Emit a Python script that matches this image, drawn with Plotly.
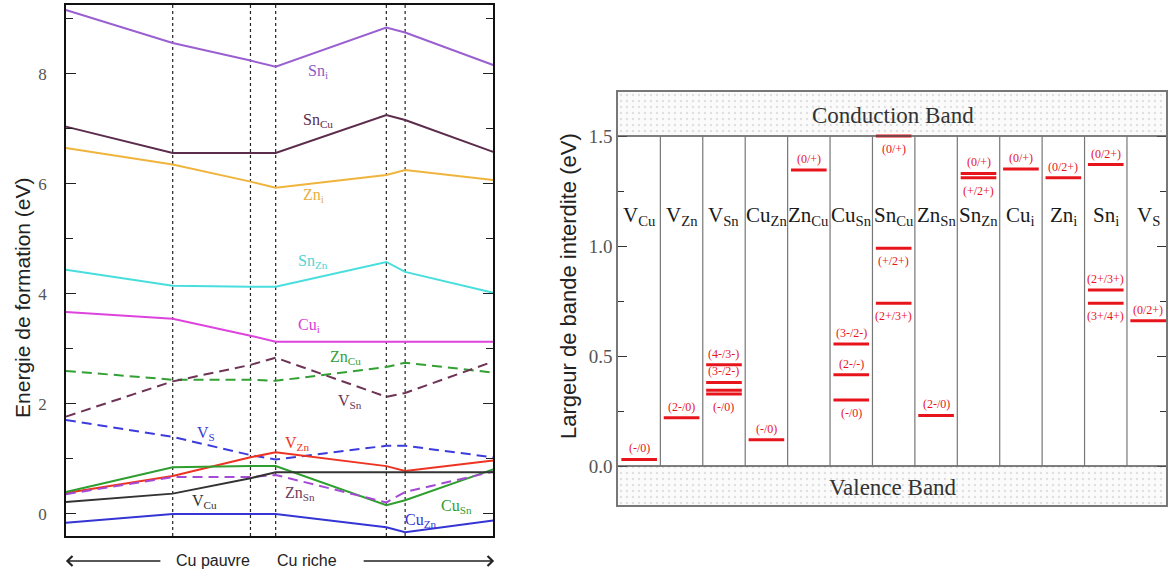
import plotly.graph_objects as go

W, H = 1168, 574

# ---------------- Left panel data ----------------
mu_points = [0, 2.5, 4.32, 4.91, 7.5, 7.94, 10]   # positions along chemical-potential path
Sn_i  = [9.16, 8.56, 8.24, 8.13, 8.84, 8.75, 8.16]
Sn_Cu = [7.04, 6.56, 6.56, 6.56, 7.25, 7.16, 6.58]
Zn_i  = [6.65, 6.35, 6.04, 5.93, 6.16, 6.25, 6.07]
Sn_Zn = [4.44, 4.15, 4.13, 4.13, 4.58, 4.40, 4.02]
Cu_i  = [3.67, 3.55, 3.24, 3.13, 3.13, 3.13, 3.13]
Zn_Cu = [2.60, 2.44, 2.44, 2.42, 2.67, 2.75, 2.57]
V_Sn  = [1.77, 2.41, 2.71, 2.84, 2.13, 2.20, 2.77]
V_S   = [1.71, 1.40, 1.07, 0.99, 1.24, 1.24, 1.03]
V_Zn  = [0.38, 0.69, 1.03, 1.12, 0.87, 0.78, 0.97]
Cu_Sn = [0.40, 0.85, 0.87, 0.87, 0.16, 0.25, 0.81]
Zn_Sn = [0.36, 0.67, 0.67, 0.71, 0.21, 0.40, 0.77]
V_Cu  = [0.22, 0.37, 0.65, 0.76, 0.76, 0.76, 0.76]
Cu_Zn = [-0.16, 0.0, 0.0, 0.0, -0.24, -0.33, -0.12]

left_yticks = [0, 2, 4, 6, 8]

# ---------------- Right panel data ----------------
defect_names = ["V<sub>Cu</sub>", "V<sub>Zn</sub>", "V<sub>Sn</sub>", "Cu<sub>Zn</sub>",
                "Zn<sub>Cu</sub>", "Cu<sub>Sn</sub>", "Sn<sub>Cu</sub>", "Zn<sub>Sn</sub>",
                "Sn<sub>Zn</sub>", "Cu<sub>i</sub>", "Zn<sub>i</sub>", "Sn<sub>i</sub>",
                "V<sub>S</sub>"]
band_gap = 1.5
level_defect = [0, 1, 2, 2, 2, 2, 3, 4, 5, 5, 5, 6, 6, 6, 7, 8, 8, 9, 10, 11, 11, 11, 12]
level_energy = [0.03, 0.22, 0.46, 0.38, 0.345, 0.328, 0.12, 1.345, 0.555, 0.415, 0.30,
                1.50, 0.99, 0.74, 0.23, 1.33, 1.31, 1.35, 1.31, 1.37, 0.80, 0.74, 0.66]
level_label  = ["(-/0)", "(2-/0)", "(4-/3-)", "(3-/2-)", "", "(-/0)", "(-/0)", "(0/+)",
                "(3-/2-)", "(2-/-)", "(-/0)", "(0/+)", "(+/2+)", "(2+/3+)", "(2-/0)",
                "(0/+)", "(+/2+)", "(0/+)", "(0/2+)", "(0/2+)", "(2+/3+)", "(3+/4+)", "(0/2+)"]
level_pos    = ["above", "above", "above", "above", "", "below", "above", "above",
                "above", "above", "below", "below", "below", "below", "above",
                "above", "below", "above", "above", "above", "above", "below", "above"]
right_yticks = [0.0, 0.5, 1.0, 1.5]

# ---------------- Styles ----------------
SERIF = "Liberation Serif"
SANS = "Liberation Sans"
series = [
    ("Sn<sub>i</sub>", Sn_i, "#9a60d2", "solid", "#8a5cc8", 5.89, 8.04),
    ("Sn<sub>Cu</sub>", Sn_Cu, "#5c2c4c", "solid", "#5c2c4c", 5.89, 7.16),
    ("Zn<sub>i</sub>", Zn_i, "#f0b43c", "solid", "#e8b040", 5.79, 5.78),
    ("Sn<sub>Zn</sub>", Sn_Zn, "#48dede", "solid", "#50d4d4", 5.79, 4.58),
    ("Cu<sub>i</sub>", Cu_i, "#dd44dd", "solid", "#d840d8", 5.70, 3.42),
    ("Zn<sub>Cu</sub>", Zn_Cu, "#33a033", "10px,6px", "#33a033", 6.55, 2.85),
    ("V<sub>Sn</sub>", V_Sn, "#6e3456", "10px,6px", "#6e3456", 6.66, 2.04),
    ("V<sub>S</sub>", V_S, "#3c3cdc", "10px,6px", "#3a3ad8", 3.29, 1.47),
    ("V<sub>Zn</sub>", V_Zn, "#ee3322", "solid", "#ee3322", 5.40, 1.29),
    ("Cu<sub>Sn</sub>", Cu_Sn, "#2e9e2e", "solid", "#2e9e2e", 9.14, 0.13),
    ("Zn<sub>Sn</sub>", Zn_Sn, "#a44ad4", "10px,6px", "#6e3c5c", 5.47, 0.38),
    ("V<sub>Cu</sub>", V_Cu, "#333333", "solid", "#333333", 3.25, 0.22),
    ("Cu<sub>Zn</sub>", Cu_Zn, "#3535d5", "solid", "#3535d5", 8.32, -0.11),
]

fig = go.Figure()
annotations = []
shapes = []

for name, vals, col, dash, lcol, lx, ly in series:
    fig.add_trace(go.Scatter(x=mu_points, y=vals, mode="lines",
                             line=dict(color=col, width=2, dash=dash),
                             xaxis="x", yaxis="y", showlegend=False, hoverinfo="skip"))
    annotations.append(dict(x=lx, y=ly, xref="x", yref="y", text=name, showarrow=False,
                            font=dict(family=SERIF, size=16, color=lcol)))

for xv in mu_points[1:-1]:
    shapes.append(dict(type="line", xref="x", yref="y domain", x0=xv, x1=xv, y0=0, y1=1,
                       line=dict(color="#222222", width=1.2, dash="dot"), layer="below"))

# ---------------- Right panel ----------------
ncol = len(defect_names)
xmax = 12.92
ytop, ybot = 1.70, -0.177

# bands with dotted pattern
for y0, y1 in [(band_gap, ytop), (ybot, 0.0)]:
    fig.add_trace(go.Scatter(x=[0, xmax, xmax, 0, 0], y=[y0, y0, y1, y1, y0],
                             mode="lines", fill="toself", line=dict(width=0),
                             fillcolor="#fbfbfb",
                             fillpattern=dict(shape=".", fgcolor="#c4c4c4", bgcolor="#fbfbfb",
                                              size=6, solidity=0.12),
                             xaxis="x2", yaxis="y2", showlegend=False, hoverinfo="skip"))

for yv in [0.0, band_gap]:
    shapes.append(dict(type="line", xref="x2", yref="y2", x0=0, x1=xmax, y0=yv, y1=yv,
                       line=dict(color="#555555", width=1.5)))
for i in range(1, ncol):
    shapes.append(dict(type="line", xref="x2", yref="y2", x0=i, x1=i, y0=0, y1=band_gap,
                       line=dict(color="#777777", width=1.2)))

for i, nm in enumerate(defect_names):
    annotations.append(dict(x=i + 0.5, y=1.135, xref="x2", yref="y2", text=nm, showarrow=False,
                            font=dict(family=SERIF, size=21, color="#1a1a1a")))

bx, by = [], []
for d, e in zip(level_defect, level_energy):
    bx += [d + 0.08, d + 0.92, None]
    by += [e, e, None]
fig.add_trace(go.Scatter(x=bx, y=by, mode="lines", line=dict(color="#e8141c", width=3),
                         xaxis="x2", yaxis="y2", showlegend=False, hoverinfo="skip"))

for d, e, lab, pos in zip(level_defect, level_energy, level_label, level_pos):
    if not lab:
        continue
    annotations.append(dict(x=d + 0.5, y=e, xref="x2", yref="y2", text=lab, showarrow=False,
                            yshift=11 if pos == "above" else -13,
                            font=dict(family=SERIF, size=12, color="#e8141c")))

annotations.append(dict(x=6.49, y=1.595, xref="x2", yref="y2", text="Conduction Band",
                        showarrow=False, font=dict(family=SERIF, size=23, color="#333333")))
annotations.append(dict(x=6.49, y=-0.098, xref="x2", yref="y2", text="Valence Band",
                        showarrow=False, font=dict(family=SERIF, size=23, color="#333333")))

# axis titles
annotations.append(dict(x=22 / W, y=1 - 298 / H, xref="paper", yref="paper",
                        xanchor="center", yanchor="middle",
                        text="Energie de formation (eV)", textangle=-90, showarrow=False,
                        font=dict(family=SANS, size=21, color="#222222")))
annotations.append(dict(x=569 / W, y=1 - 286 / H, xref="paper", yref="paper",
                        xanchor="center", yanchor="middle",
                        text="Largeur de bande interdite (eV)", textangle=-90, showarrow=False,
                        font=dict(family=SANS, size=22, color="#222222")))

# bottom arrows and labels
ya = 1 - 561 / H
annotations.append(dict(x=66 / W, y=ya, xref="paper", yref="paper", text="", showarrow=True,
                        ax=96, ay=0, arrowhead=4, arrowsize=1.3, arrowwidth=1.5,
                        arrowcolor="#222222", standoff=0))
annotations.append(dict(x=495 / W, y=ya, xref="paper", yref="paper", text="", showarrow=True,
                        ax=-132, ay=0, arrowhead=4, arrowsize=1.3, arrowwidth=1.5,
                        arrowcolor="#222222", standoff=0))
annotations.append(dict(x=213 / W, y=1 - 560 / H, xref="paper", yref="paper", text="Cu pauvre",
                        xanchor="center", yanchor="middle",
                        showarrow=False, font=dict(family=SANS, size=16, color="#222222")))
annotations.append(dict(x=308 / W, y=1 - 560 / H, xref="paper", yref="paper", text="Cu riche",
                        xanchor="center", yanchor="middle",
                        showarrow=False, font=dict(family=SANS, size=16, color="#222222")))

fig.update_layout(
    width=W, height=H, margin=dict(l=0, r=0, t=0, b=0),
    paper_bgcolor="white", plot_bgcolor="white",
    xaxis=dict(domain=[66 / W, 494 / W], range=[0, 10], showticklabels=False, ticks="",
               showgrid=False, zeroline=False, showline=True, mirror=True,
               linecolor="#111111", linewidth=1.5),
    yaxis=dict(domain=[1 - 536 / H, 1 - 5 / H], range=[-0.4, 9.25],
               tickvals=left_yticks, ticks="inside", ticklen=10, tickwidth=1.3,
               tickcolor="#222222", mirror="ticks", showline=True, linecolor="#111111",
               linewidth=1.5, showgrid=False, zeroline=False, ticklabelstandoff=14,
               minor=dict(dtick=1, tick0=0, ticks="inside", ticklen=7, tickcolor="#222222"),
               tickfont=dict(family=SERIF, size=17, color="#555555")),
    xaxis2=dict(domain=[619 / W, 1.0], range=[0, xmax], showticklabels=False, ticks="",
                showgrid=False, zeroline=False, showline=True, mirror=True,
                linecolor="#777777", linewidth=1.5, anchor="y2"),
    yaxis2=dict(domain=[1 - 505 / H, 1 - 92 / H], range=[ybot, ytop], anchor="x2",
                tickvals=right_yticks, ticktext=["%.1f" % v for v in right_yticks],
                ticks="inside", ticklen=9, tickwidth=1.3, tickcolor="#333333",
                mirror="ticks", showline=True, linecolor="#777777", linewidth=1.5,
                showgrid=False, zeroline=False,
                minor=dict(dtick=0.25, tick0=0, ticks="inside", ticklen=6, tickcolor="#333333"),
                tickfont=dict(family=SERIF, size=19, color="#555555")),
    annotations=annotations, shapes=shapes,
)

fig.write_html("out.html", config={"displayModeBar": False},
               post_script="document.body.style.margin='0px';")
